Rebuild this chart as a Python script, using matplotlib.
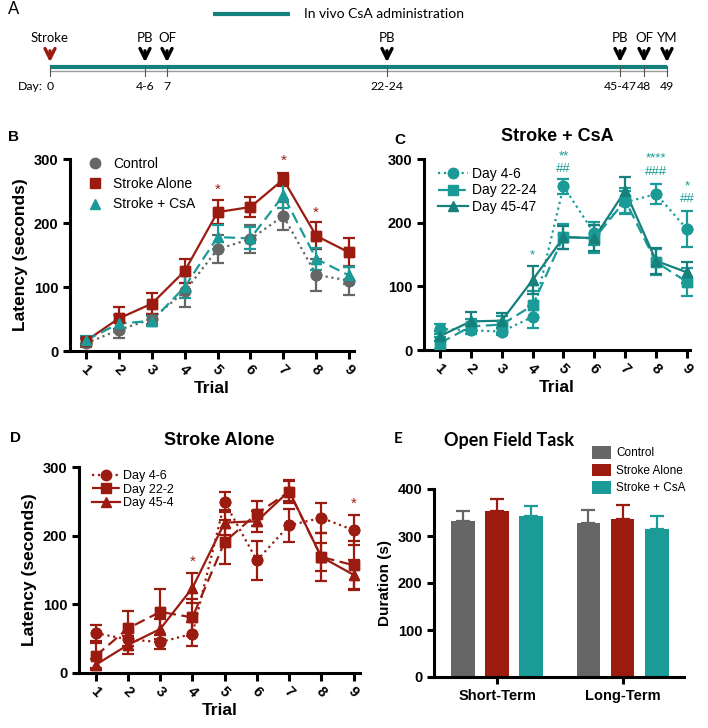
import numpy as np
import matplotlib.pyplot as plt
from matplotlib.lines import Line2D

plt.rcParams['font.family'] = ['Liberation Sans', 'DejaVu Sans']

GRAY = "#666666"
RED = "#9b1b10"
TEAL = "#1a9b97"
DTEAL = "#14817d"

trials = [1, 2, 3, 4, 5, 6, 7, 8, 9]

# panel A timeline
tl_tests = ["Stroke", "PB", "OF", "PB", "PB", "OF", "YM"]
tl_days = ["0", "4-6", "7", "22-24", "45-47", "48", "49"]
tl_pos = [50, 145, 167, 387, 620, 644, 667]   # schematic positions (not to scale)

# panel B
b_control = [12, 33, 50, 93, 159, 175, 211, 119, 110]
b_control_err = [6, 13, 8, 25, 22, 22, 22, 25, 23]
b_stroke = [16, 51, 74, 125, 217, 225, 268, 180, 154]
b_stroke_err = [6, 17, 16, 18, 19, 16, 10, 21, 22]
b_csa = [17, 43, 47, 100, 178, 176, 243, 144, 118]
b_csa_err = [6, 14, 8, 17, 19, 17, 20, 17, 14]
b_star_x = [5, 7, 8]
b_star_y = [252, 297, 216]

# panel C
c_d4 = [33, 31, 29, 52, 257, 183, 232, 245, 190]
c_d4_err = [8, 6, 6, 17, 12, 18, 18, 16, 28]
c_d22 = [11, 37, 40, 70, 178, 175, 235, 138, 107]
c_d22_err = [10, 12, 14, 22, 20, 22, 20, 20, 22]
c_d45 = [22, 45, 46, 110, 177, 176, 250, 140, 122]
c_d45_err = [8, 14, 12, 22, 18, 20, 22, 20, 16]
c_sig_x = [4, 5, 5, 8, 8, 9, 9]
c_sig_y = [148, 304, 284, 301, 279, 257, 237]
c_sig_txt = ["*", "**", "##", "****", "###", "*", "##"]

# panel D
d_d4 = [58, 49, 45, 57, 249, 164, 215, 226, 208]
d_d4_err = [12, 10, 10, 18, 14, 28, 24, 22, 22]
d_d22 = [25, 65, 89, 81, 191, 232, 264, 169, 157]
d_d22_err = [18, 25, 33, 27, 32, 18, 17, 35, 35]
d_d45 = [12, 41, 64, 124, 219, 221, 265, 169, 143]
d_d45_err = [8, 13, 15, 22, 18, 15, 15, 20, 22]
d_star_x = [4, 9]
d_star_y = [162, 247]

# panel E
e_groups = ["Short-Term", "Long-Term"]
e_control = [332, 328]
e_control_err = [22, 28]
e_stroke = [354, 337]
e_stroke_err = [25, 30]
e_csa = [343, 315]
e_csa_err = [20, 27]

fig = plt.figure(figsize=(7.08, 7.28), dpi=100)


def style_axis(ax, ymax, yticks):
    for s in ["top", "right"]:
        ax.spines[s].set_visible(False)
    for s in ["left", "bottom"]:
        ax.spines[s].set_linewidth(2.2)
    ax.spines["left"].set_bounds(0, ymax)
    ax.set_ylim(0, ymax)
    ax.set_yticks(yticks)
    ax.tick_params(width=2.2, length=5, labelsize=10.5)
    for lab in ax.get_yticklabels():
        lab.set_fontweight("bold")


def trial_axis(ax):
    ax.set_xticks(trials)
    ax.set_xticklabels([str(t) for t in trials], rotation=-45, ha="center",
                       fontweight="bold", fontsize=10.5)
    ax.tick_params(axis="x", length=6, pad=2)
    ax.set_xlabel("Trial", fontweight="bold", fontsize=12.5, labelpad=2)


def series(ax, y, err, color, ls, marker, ms=7.5, label=None, dashes=None):
    kw = dict(fmt=marker, color=color, ecolor=color, elinewidth=1.6,
              capsize=4.5, capthick=1.6, ms=ms, clip_on=False, zorder=3)
    ax.errorbar(trials, y, yerr=err, linestyle="none", **kw)
    ln, = ax.plot(trials, y, color=color, ls=ls, lw=1.6, marker=marker, ms=ms,
                  label=label, clip_on=False, zorder=3)
    if dashes is not None:
        ln.set_dashes(dashes)
    return ln


# ---------- A ----------
axA = fig.add_axes([0, 1 - 110 / 728, 1, 110 / 728])
axA.set_xlim(0, 708)
axA.set_ylim(110, 0)
axA.axis("off")
tfont = dict(family=["Lato", "DejaVu Sans"], fontsize=9.5)
dfont = dict(family=["Lato", "DejaVu Sans"], fontsize=8.8)
axA.text(8, 9, "A", fontsize=12, ha="left", va="center", family=["Lato", "DejaVu Sans"])
axA.plot([213, 290], [14, 14], color=DTEAL, lw=3, solid_capstyle="butt")
axA.text(304, 14, "In vivo CsA administration", ha="left", va="center",
         family=["Lato", "DejaVu Sans"], fontsize=10)
axA.plot([tl_pos[0], tl_pos[-1]], [71, 71], color="#999999", lw=1)
axA.plot([tl_pos[0], tl_pos[-1]], [67, 67], color=DTEAL, lw=3, solid_capstyle="butt")
for i, (p, t, d) in enumerate(zip(tl_pos, tl_tests, tl_days)):
    c = RED if i == 0 else "black"
    axA.plot([p, p], [66, 76], color="#555555", lw=0.8)
    axA.annotate("", xy=(p, 65), xytext=(p, 48),
                 arrowprops=dict(arrowstyle="->", color=c, lw=2.4, mutation_scale=18))
    axA.text(p, 44, t, ha="center", va="bottom", **tfont)
    axA.text(p, 86, d, ha="center", va="center", **dfont)
axA.text(tl_pos[0] - 7, 86, "Day:", ha="right", va="center", **dfont)

# ---------- B ----------
axB = fig.add_axes([70 / 708, 1 - 351 / 728, 284 / 708, 192 / 728])
style_axis(axB, 300, [0, 100, 200, 300])
axB.set_xlim(0.51, 9.15)
trial_axis(axB)
series(axB, b_control, b_control_err, GRAY, ":", "o", label="Control")
series(axB, b_stroke, b_stroke_err, RED, "-", "s", label="Stroke Alone")
series(axB, b_csa, b_csa_err, TEAL, "--", "^", label="Stroke + CsA", dashes=(5, 2.5))
for x, y in zip(b_star_x, b_star_y):
    axB.text(x, y, "*", color=RED, ha="center", va="center", fontsize=11)
axB.set_ylabel("Latency (seconds)", fontweight="bold", fontsize=12.5, labelpad=4)
hB = [Line2D([], [], color=c, marker=m, ls="none", ms=7.5) for c, m in
      [(GRAY, "o"), (RED, "s"), (TEAL, "^")]]
axB.legend(hB, ["Control", "Stroke Alone", "Stroke + CsA"], loc="upper left",
           bbox_to_anchor=(0.02, 1.076), frameon=False, fontsize=10,
           handlelength=1.0, handletextpad=0.8, labelspacing=0.45)
fig.text(8 / 708, 1 - 137 / 728, "B", fontsize=11, fontweight="bold", va="center")

# ---------- C ----------
axC = fig.add_axes([424 / 708, 1 - 350 / 728, 266 / 708, 191 / 728])
style_axis(axC, 300, [0, 100, 200, 300])
axC.set_xlim(0.48, 9.1)
trial_axis(axC)
hc1 = series(axC, c_d4, c_d4_err, TEAL, ":", "o", label="Day 4-6")
hc2 = series(axC, c_d22, c_d22_err, TEAL, "--", "s", label="Day 22-24", dashes=(5, 2.5))
hc3 = series(axC, c_d45, c_d45_err, DTEAL, "-", "^", label="Day 45-47")
for x, y, t in zip(c_sig_x, c_sig_y, c_sig_txt):
    axC.text(x, y, t, color=TEAL, ha="center", va="center", fontsize=9.5)
axC.legend(handles=[hc1, hc2, hc3], loc="upper left", bbox_to_anchor=(0.02, 1.0),
           frameon=False, fontsize=10, handlelength=2.2, handletextpad=0.3,
           labelspacing=0.15, borderaxespad=0.2)
axC.set_title("Stroke + CsA", fontweight="bold", fontsize=13, pad=13)
fig.text(394 / 708, 1 - 140 / 728, "C", fontsize=11, fontweight="bold", va="center")

# ---------- D ----------
axD = fig.add_axes([79 / 708, 1 - 673 / 728, 281 / 708, 206 / 728])
style_axis(axD, 300, [0, 100, 200, 300])
axD.set_xlim(0.48, 9.2)
trial_axis(axD)
hd1 = series(axD, d_d4, d_d4_err, RED, ":", "o", label="Day 4-6")
hd2 = series(axD, d_d22, d_d22_err, RED, "--", "s", label="Day 22-2", dashes=(5, 2.5))
hd3 = series(axD, d_d45, d_d45_err, RED, "-", "^", label="Day 45-4")
for x, y in zip(d_star_x, d_star_y):
    axD.text(x, y, "*", color=RED, ha="center", va="center", fontsize=11)
axD.set_ylabel("Latency (seconds)", fontweight="bold", fontsize=12.5, labelpad=4)
axD.legend(handles=[hd1, hd2, hd3], loc="upper left", bbox_to_anchor=(0.02, 1.02),
           frameon=False, fontsize=9, handlelength=2.2, handletextpad=0.3,
           labelspacing=0.1, borderaxespad=0.2)
axD.set_title("Stroke Alone", fontweight="bold", fontsize=13, pad=15.5)
fig.text(10 / 708, 1 - 438 / 728, "D", fontsize=11, fontweight="bold", va="center")

# ---------- E ----------
axE = fig.add_axes([434 / 708, 1 - 677 / 728, 250 / 708, 188 / 728])
style_axis(axE, 400, [0, 100, 200, 300, 400])
xg = np.arange(len(e_groups))
off = 0.272
w = 0.19
for k, (vals, errs, c, lab) in enumerate([(e_control, e_control_err, GRAY, "Control"),
                                          (e_stroke, e_stroke_err, RED, "Stroke Alone"),
                                          (e_csa, e_csa_err, TEAL, "Stroke + CsA")]):
    xs = xg + (k - 1) * off
    axE.bar(xs, vals, width=w, color=c, label=lab, zorder=2)
    axE.errorbar(xs, vals, yerr=[np.zeros(len(vals)), errs], fmt="none",
                 ecolor=c, elinewidth=1.6, capsize=5, capthick=1.6, zorder=1)
axE.set_xlim(-0.504, 1.49)
axE.set_xticks(xg)
axE.set_xticklabels(e_groups, fontweight="bold", fontsize=10.5)
axE.tick_params(axis="x", length=5)
axE.set_ylabel("Duration (s)", fontweight="bold", fontsize=11, labelpad=4)
axE.legend(loc="upper left", bbox_to_anchor=(0.588, 1.285), frameon=False,
           fontsize=8.5, handlelength=1.6, handleheight=1.3, handletextpad=0.5,
           labelspacing=0.35)
axE.set_title("Open Field Task", fontweight="bold", fontsize=13, loc="left",
              x=0.04, pad=31, family=["Lato", "DejaVu Sans"])
fig.text(394 / 708, 1 - 439 / 728, "E", fontsize=11, va="center",
         family=["Lato", "DejaVu Sans"], fontweight="bold")

fig.savefig("out.png", dpi=100)
